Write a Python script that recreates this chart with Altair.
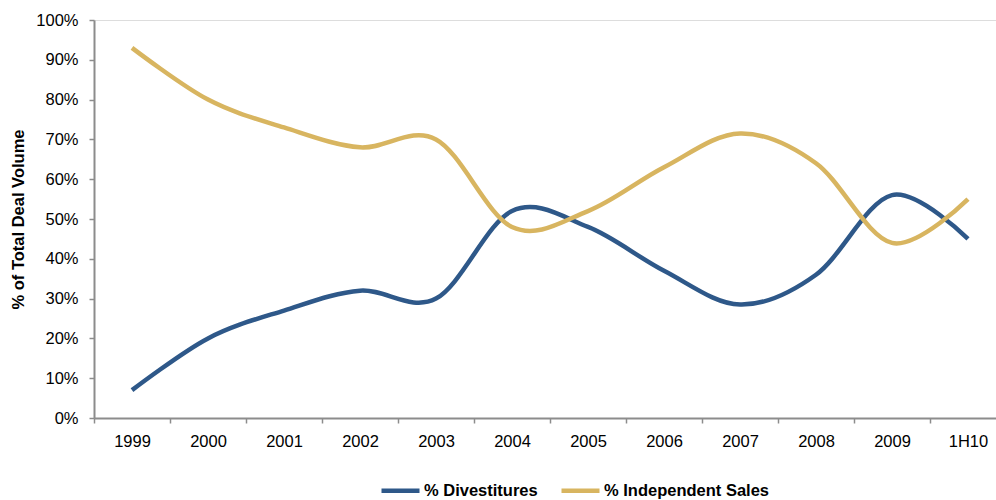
import altair as alt
import pandas as pd

# Share of total deal volume by year
periods = ["1999", "2000", "2001", "2002", "2003", "2004", "2005",
           "2006", "2007", "2008", "2009", "1H10"]
divestitures = [7, 20, 27, 32, 30, 52, 48, 37, 28.5, 36, 56, 45]
independent_sales = [93, 80, 73, 68, 70, 48, 52, 63, 71.5, 64, 44, 55]

series_names = ["% Divestitures", "% Independent Sales"]
series_colors = ["#2E5889", "#D8B560"]

rows = []
for p, d, s in zip(periods, divestitures, independent_sales):
    rows.append({"period": p, "series": series_names[0], "value": d / 100})
    rows.append({"period": p, "series": series_names[1], "value": s / 100})
df = pd.DataFrame(rows)

font = "Liberation Sans"
fs = 16.5

chart = (
    alt.Chart(df)
    .mark_line(interpolate="cardinal", strokeWidth=4.5)
    .encode(
        x=alt.X(
            "period:O",
            sort=periods,
            scale=alt.Scale(range=[0, 912], paddingInner=0, paddingOuter=0),
            axis=alt.Axis(
                title=None,
                labelAngle=0,
                labelFont=font,
                labelFontSize=fs,
                labelColor="#000000",
                labelPadding=10,
                tickBand="extent",
                tickSize=5,
                tickColor="#8C8C8C",
                domainColor="#8C8C8C",
                domainWidth=2,
                tickWidth=1.5,
                grid=False,
            ),
        ),
        y=alt.Y(
            "value:Q",
            scale=alt.Scale(domain=[0, 1], nice=False),
            axis=alt.Axis(
                title="% of Total Deal Volume",
                format=".0%",
                values=[i / 10 for i in range(11)],
                labelFont=font,
                labelFontSize=fs,
                labelColor="#000000",
                labelPadding=11,
                tickSize=5,
                tickColor="#8C8C8C",
                domainColor="#8C8C8C",
                domainWidth=2,
                tickWidth=1.5,
                titleFont=font,
                titleFontSize=fs,
                titleFontWeight="bold",
                titleColor="#000000",
                titleX=-68,
                titleY=199,
                grid=False,
            ),
        ),
        color=alt.Color(
            "series:N",
            scale=alt.Scale(domain=series_names, range=series_colors),
            legend=alt.Legend(
                title=None,
                orient="none",
                legendX=285,
                legendY=449,
                direction="horizontal",
                symbolType="stroke",
                symbolSize=1444,
                symbolStrokeWidth=4.5,
                labelFont=font,
                labelFontSize=fs,
                labelFontWeight="bold",
                labelColor="#000000",
                labelOffset=2,
                columnPadding=14,
                labelLimit=300,
            ),
        ),
    )
    .properties(
        width=902,
        height=398,
        autosize=alt.AutoSizeParams(type="none"),
        padding={"left": 94, "top": 20, "right": 0, "bottom": 82},
    )
    .configure_view(stroke=None)
    .configure(background="#FFFFFF")
)

chart.save("out.html", embed_options={"renderer": "svg", "actions": False})
